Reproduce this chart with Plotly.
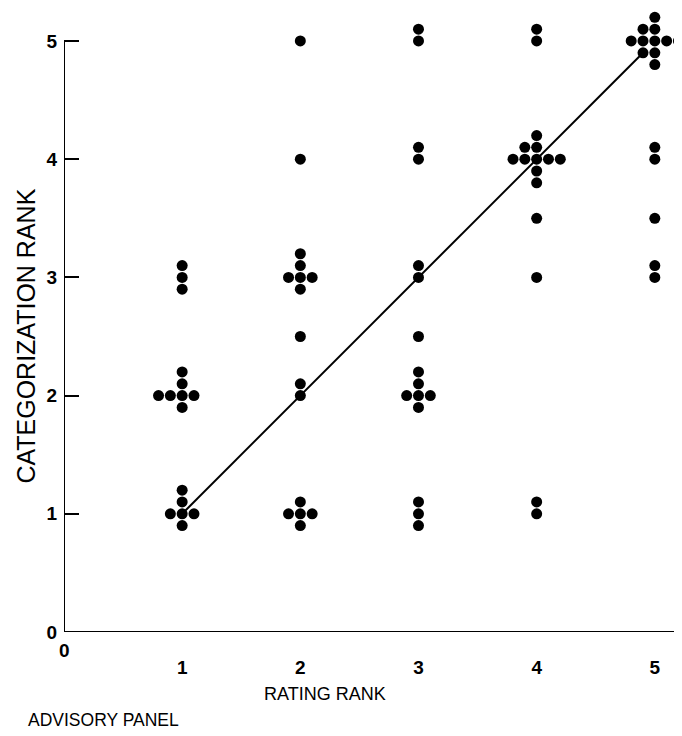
import plotly.graph_objects as go

# Data: each dot (rating rank, categorization rank)
rating_rank = [
    1, 1, 1,
    1, 1, 0.8, 0.9, 1, 1.1, 1,
    1, 1, 0.9, 1, 1.1, 1,
    2, 2,
    2, 2, 1.9, 2, 2.1, 2,
    2, 2, 2,
    2, 1.9, 2, 2.1, 2,
    3, 3, 3, 3,
    3, 3, 3,
    3, 3, 2.9, 3, 3.1, 3,
    3, 3, 3,
    4, 4,
    4, 3.9, 4, 3.8, 3.9, 4, 4.1, 4.2, 4, 4,
    4, 4,
    4, 4,
    5, 4.9, 5, 4.8, 4.9, 5, 5.1, 5.2, 4.9, 5, 5,
    5, 5, 5, 5, 5,
]
categorization_rank = [
    3.1, 3.0, 2.9,
    2.2, 2.1, 2.0, 2.0, 2.0, 2.0, 1.9,
    1.2, 1.1, 1.0, 1.0, 1.0, 0.9,
    5.0, 4.0,
    3.2, 3.1, 3.0, 3.0, 3.0, 2.9,
    2.5, 2.1, 2.0,
    1.1, 1.0, 1.0, 1.0, 0.9,
    5.1, 5.0, 4.1, 4.0,
    3.1, 3.0, 2.5,
    2.2, 2.1, 2.0, 2.0, 2.0, 1.9,
    1.1, 1.0, 0.9,
    5.1, 5.0,
    4.2, 4.1, 4.1, 4.0, 4.0, 4.0, 4.0, 4.0, 3.9, 3.8,
    3.5, 3.0,
    1.1, 1.0,
    5.2, 5.1, 5.1, 5.0, 5.0, 5.0, 5.0, 5.0, 4.9, 4.9, 4.8,
    4.1, 4.0, 3.5, 3.1, 3.0,
]

fit_x = [1.0, 4.93]
fit_y = [1.0, 4.93]

x_tick_vals = [1, 2, 3, 4, 5]
x_tick_text = ["1", "2", "3", "4", "5"]
y_tick_vals = [0, 1, 2, 3, 4, 5]
y_tick_text = ["0", "1", "2", "3", "4", "5"]
x_origin_label = "0"

x_title = "RATING RANK"
y_title = "CATEGORIZATION RANK"
panel_label = "ADVISORY PANEL"

FONT = "Liberation Sans"

fig = go.Figure()
fig.add_trace(go.Scatter(
    x=fit_x, y=fit_y, mode="lines",
    line=dict(color="black", width=2), showlegend=False, hoverinfo="skip",
))
fig.add_trace(go.Scatter(
    x=rating_rank, y=categorization_rank, mode="markers",
    marker=dict(color="black", size=11, line=dict(width=0)),
    showlegend=False, cliponaxis=False,
))

# axis lines
fig.add_shape(type="line", xref="x", yref="y", x0=0, y0=0, x1=0, y1=5,
              line=dict(color="black", width=2))
fig.add_shape(type="line", xref="x", yref="y", x0=0, y0=0, x1=5.22, y1=0,
              line=dict(color="black", width=2))

fig.update_xaxes(
    range=[0, 5.23], showgrid=False, zeroline=False, showline=False,
    tickvals=x_tick_vals, ticktext=x_tick_text, ticks="",
    tickfont=dict(family=FONT, size=19, color="black", weight="bold"),
    ticklabelstandoff=22, automargin=False,
)
fig.update_yaxes(
    range=[0, 5.279], showgrid=False, zeroline=False, showline=False,
    tickvals=y_tick_vals, ticktext=y_tick_text, ticks="inside", ticklen=15,
    tickwidth=2, tickcolor="black",
    tickfont=dict(family=FONT, size=19, color="black", weight="bold"),
    ticklabelstandoff=6, automargin=False,
)

fig.add_annotation(x=0, y=0, xref="x", yref="y", text=x_origin_label,
                   showarrow=False, yshift=-18,
                   font=dict(family=FONT, size=19, color="black", weight="bold"))
fig.add_annotation(x=2.21, y=-0.1, xref="x", yref="paper", text=x_title,
                   showarrow=False, yanchor="middle",
                   font=dict(family=FONT, size=18, color="black"))
fig.add_annotation(x=-0.0615, y=0.475, xref="paper", yref="paper", text=y_title,
                   showarrow=False, textangle=-90, xanchor="center", yanchor="middle",
                   font=dict(family=FONT, size=25, color="black"))
fig.add_annotation(x=-0.0615, y=-0.141, xref="paper", yref="paper", text=panel_label,
                   showarrow=False, xanchor="left", yanchor="middle",
                   font=dict(family=FONT, size=17.5, color="black"))

# the page adds an 8px body margin, so the figure is 8px smaller than the window
fig.update_layout(
    width=674, height=728,
    margin=dict(l=56, r=0, t=0, b=104),
    paper_bgcolor="white", plot_bgcolor="white",
)

fig.write_html("out.html")
